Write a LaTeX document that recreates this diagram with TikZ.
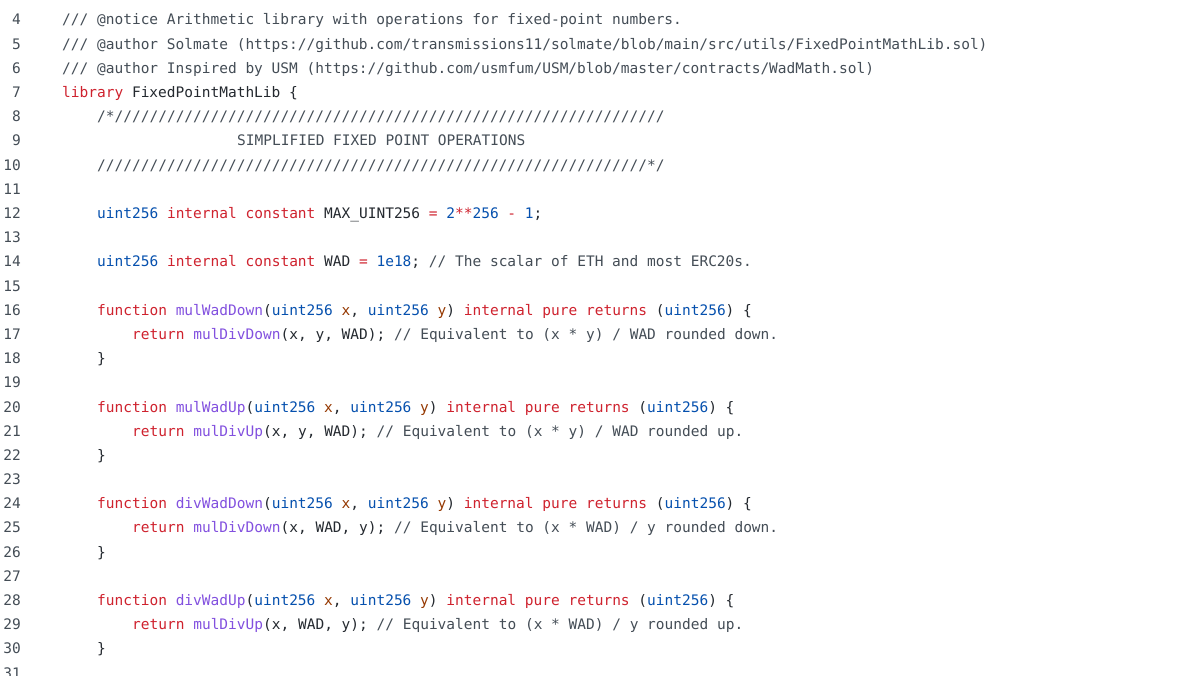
\documentclass[tikz,border=0pt]{standalone}
\usepackage{fontspec}
\setmonofont{DejaVu Sans Mono}
\definecolor{kw}{HTML}{CF222E}
\definecolor{ty}{HTML}{0550AE}
\definecolor{fn}{HTML}{8250DF}
\definecolor{vr}{HTML}{953800}
\definecolor{tx}{HTML}{24292F}
\definecolor{cm}{HTML}{444D56}
\definecolor{lnc}{HTML}{444D56}
\newcommand{\K}[1]{\textcolor{kw}{#1}}
\newcommand{\T}[1]{\textcolor{ty}{#1}}
\newcommand{\F}[1]{\textcolor{fn}{#1}}
\newcommand{\V}[1]{\textcolor{vr}{#1}}
\newcommand{\C}[1]{\textcolor{cm}{#1}}
\begin{document}
\begin{tikzpicture}[x=1pt,y=-1pt,
  code/.style={anchor=base west,inner sep=0pt,font=\fontsize{14.5}{16}\ttfamily,text=tx},
  num/.style={anchor=base east,inner sep=0pt,font=\fontsize{14.5}{16}\ttfamily,text=lnc}]
\clip (0,0) rectangle (1200,676);
\fill[white] (0,0) rectangle (1200,676);
\def\ch{8.75}
\def\lh{24.19}
\foreach \n in {4,...,31} \node[num] (n\n) at (21,{25+(\n-4)*\lh}) {\n};
\newcommand{\codeln}[3]{\node[code] (c#1) at ({62+#2*\ch},{25+(#1-4)*\lh}) {#3};}
\codeln{4}{0}{\C{/// @notice Arithmetic library with operations for fixed-point numbers.}}
\codeln{5}{0}{\C{/// @author Solmate (https://github.com/transmissions11/solmate/blob/main/src/utils/FixedPointMathLib.sol)}}
\codeln{6}{0}{\C{/// @author Inspired by USM (https://github.com/usmfum/USM/blob/master/contracts/WadMath.sol)}}
\codeln{7}{0}{\K{library} FixedPointMathLib \{}
\codeln{8}{4}{\C{/*///////////////////////////////////////////////////////////////}}
\codeln{9}{20}{\C{SIMPLIFIED FIXED POINT OPERATIONS}}
\codeln{10}{4}{\C{///////////////////////////////////////////////////////////////*/}}
\codeln{12}{4}{\T{uint256} \K{internal} \K{constant} MAX\_UINT256 \K{=} \T{2}\K{**}\T{256} \K{-} \T{1};}
\codeln{14}{4}{\T{uint256} \K{internal} \K{constant} WAD \K{=} \T{1e18}; \C{// The scalar of ETH and most ERC20s.}}
\codeln{16}{4}{\K{function} \F{mulWadDown}(\T{uint256} \V{x}, \T{uint256} \V{y}) \K{internal} \K{pure} \K{returns} (\T{uint256}) \{}
\codeln{17}{8}{\K{return} \F{mulDivDown}(x, y, WAD); \C{// Equivalent to (x * y) / WAD rounded down.}}
\codeln{18}{4}{\}}
\codeln{20}{4}{\K{function} \F{mulWadUp}(\T{uint256} \V{x}, \T{uint256} \V{y}) \K{internal} \K{pure} \K{returns} (\T{uint256}) \{}
\codeln{21}{8}{\K{return} \F{mulDivUp}(x, y, WAD); \C{// Equivalent to (x * y) / WAD rounded up.}}
\codeln{22}{4}{\}}
\codeln{24}{4}{\K{function} \F{divWadDown}(\T{uint256} \V{x}, \T{uint256} \V{y}) \K{internal} \K{pure} \K{returns} (\T{uint256}) \{}
\codeln{25}{8}{\K{return} \F{mulDivDown}(x, WAD, y); \C{// Equivalent to (x * WAD) / y rounded down.}}
\codeln{26}{4}{\}}
\codeln{28}{4}{\K{function} \F{divWadUp}(\T{uint256} \V{x}, \T{uint256} \V{y}) \K{internal} \K{pure} \K{returns} (\T{uint256}) \{}
\codeln{29}{8}{\K{return} \F{mulDivUp}(x, WAD, y); \C{// Equivalent to (x * WAD) / y rounded up.}}
\codeln{30}{4}{\}}
\end{tikzpicture}
\end{document}
